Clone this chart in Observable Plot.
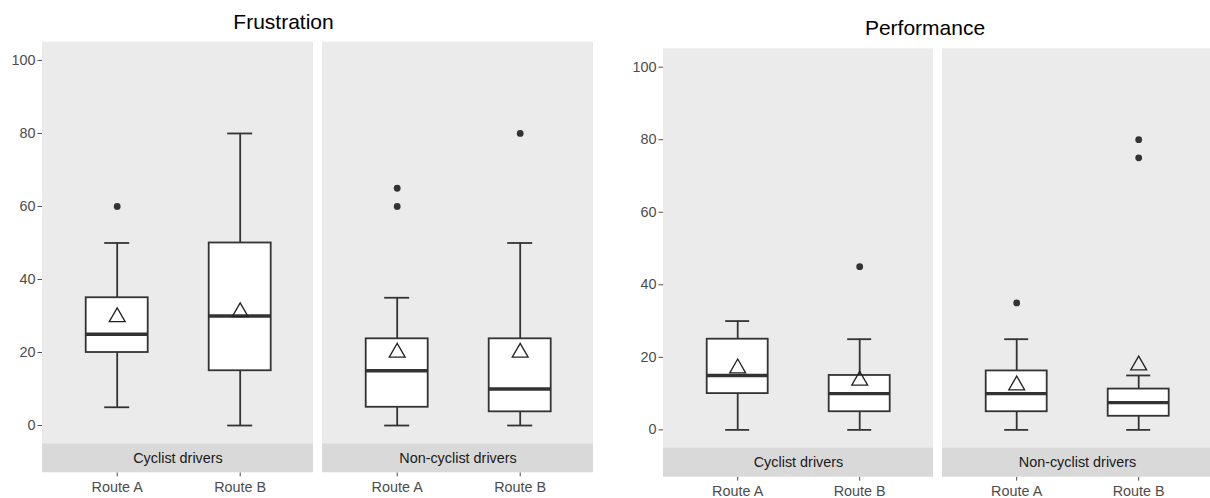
<!DOCTYPE html>
<html>
<head>
<meta charset="utf-8">
<script src="https://cdn.jsdelivr.net/npm/d3@7"></script>
<script src="https://cdn.jsdelivr.net/npm/@observablehq/plot@0.6"></script>
<style>
  html, body { margin: 0; padding: 0; background: #fff; overflow: hidden; }
  #wrap { position: relative; width: 1210px; height: 498px; overflow: hidden; font-family: "Liberation Sans", Arial, sans-serif; }
  .title { position: absolute; font-size: 21px; line-height: 21px; color: #000; white-space: nowrap; transform: translateX(-50%); }
  #wrap svg { position: absolute; top: 0; }
</style>
</head>
<body>
<div id="wrap">
  <div class="title" id="t1" style="left:283.5px; top:10.5px;">Frustration</div>
  <div class="title" id="t2" style="left:925px; top:17.2px;">Performance</div>
</div>
<script>
// ---- data ----
const groups = ["Cyclist drivers", "Non-cyclist drivers"];
const routes = ["Route A", "Route B"];
const yTicks = [0, 20, 40, 60, 80, 100];

// box order: Cyclist A, Cyclist B, Non-cyclist A, Non-cyclist B
const frusLower  = [5, 0, 0, 0];
const frusQ1     = [20, 15, 5, 3.75];
const frusMedian = [25, 30, 15, 10];
const frusQ3     = [35, 50, 23.75, 23.75];
const frusUpper  = [50, 80, 35, 50];
const frusMean   = [29.7, 31.1, 20, 20];
const frusOutliers = [[60], [], [60, 65], [80]];

const perfLower  = [0, 0, 0, 0];
const perfQ1     = [10, 5, 5, 3.75];
const perfMedian = [15, 10, 10, 7.5];
const perfQ3     = [25, 15, 16.25, 11.25];
const perfUpper  = [30, 25, 25, 15];
const perfMean   = [17, 13.6, 12.3, 17.8];
const perfOutliers = [[], [45], [35], [75, 80]];

function buildBoxes(lower, q1, median, q3, upper, mean) {
  return groups.flatMap((g, gi) => routes.map((r, ri) => {
    const i = gi * 2 + ri;
    return {group: g, route: r, lower: lower[i], q1: q1[i], median: median[i], q3: q3[i], upper: upper[i], mean: mean[i]};
  }));
}
function buildOutliers(outs) {
  return groups.flatMap((g, gi) => routes.flatMap((r, ri) =>
    outs[gi * 2 + ri].map(v => ({group: g, route: r, value: v}))));
}

const ink = "#333333";

function chart({boxes, outliers, width, marginLeft, marginRight, marginTop, marginBottom, yDomain}) {
  const stripMid = (yDomain[0] + -5) / 2;
  return Plot.plot({
    width, height: 498,
    marginLeft, marginRight, marginTop, marginBottom,
    style: {fontFamily: "'Liberation Sans', Arial, sans-serif", fontSize: "14.4px", color: "#4D4D4D", background: "transparent", overflow: "visible"},
    fx: {domain: groups, paddingInner: 0.032, paddingOuter: 0, axis: null, label: null},
    x: {domain: routes, paddingInner: 0.5, paddingOuter: 0.35, label: null, tickSize: 4, tickPadding: 5},
    y: {domain: yDomain, ticks: yTicks, label: null, tickSize: 4.5, tickPadding: 2.5},
    marks: [
      Plot.rect(groups, {fx: d => d, y1: -5, y2: yDomain[1], fill: "#EBEBEB"}),
      Plot.rect(groups, {fx: d => d, y1: yDomain[0], y2: -5, fill: "#D9D9D9"}),
      Plot.text(groups, {fx: d => d, y: stripMid, text: d => d, fill: "#1A1A1A", fontSize: 14.4}),
      Plot.ruleX(boxes, {fx: "group", x: "route", y1: "lower", y2: "upper", stroke: ink, strokeWidth: 1.8}),
      Plot.tickY(boxes, {fx: "group", x: "route", y: "upper", stroke: ink, strokeWidth: 1.8, insetLeft: 18.5, insetRight: 18.5}),
      Plot.tickY(boxes, {fx: "group", x: "route", y: "lower", stroke: ink, strokeWidth: 1.8, insetLeft: 18.5, insetRight: 18.5}),
      Plot.barY(boxes, {fx: "group", x: "route", y1: "q1", y2: "q3", fill: "white", stroke: ink, strokeWidth: 1.8}),
      Plot.tickY(boxes, {fx: "group", x: "route", y: "median", stroke: ink, strokeWidth: 3.4}),
      Plot.dot(outliers, {fx: "group", x: "route", y: "value", r: 3.4, fill: ink, stroke: "none"}),
      Plot.dot(boxes, {fx: "group", x: "route", y: "mean", symbol: "triangle", r: 5.9, fill: "none", stroke: "#222", strokeWidth: 1.3})
    ]
  });
}

const wrap = document.getElementById("wrap");

const svg1 = chart({
  boxes: buildBoxes(frusLower, frusQ1, frusMedian, frusQ3, frusUpper, frusMean),
  outliers: buildOutliers(frusOutliers),
  width: 605, marginLeft: 41.3, marginRight: 11.7, marginTop: 41.7, marginBottom: 25.7,
  yDomain: [-12.95, 105]
});
svg1.style.left = "0px";
wrap.appendChild(svg1);

const svg2 = chart({
  boxes: buildBoxes(perfLower, perfQ1, perfMedian, perfQ3, perfUpper, perfMean),
  outliers: buildOutliers(perfOutliers),
  width: 610, marginLeft: 57.3, marginRight: 2, marginTop: 48.3, marginBottom: 21.3,
  yDomain: [-13.05, 105.07]
});
svg2.style.left = "605px";
wrap.appendChild(svg2);
</script>
</body>
</html>
